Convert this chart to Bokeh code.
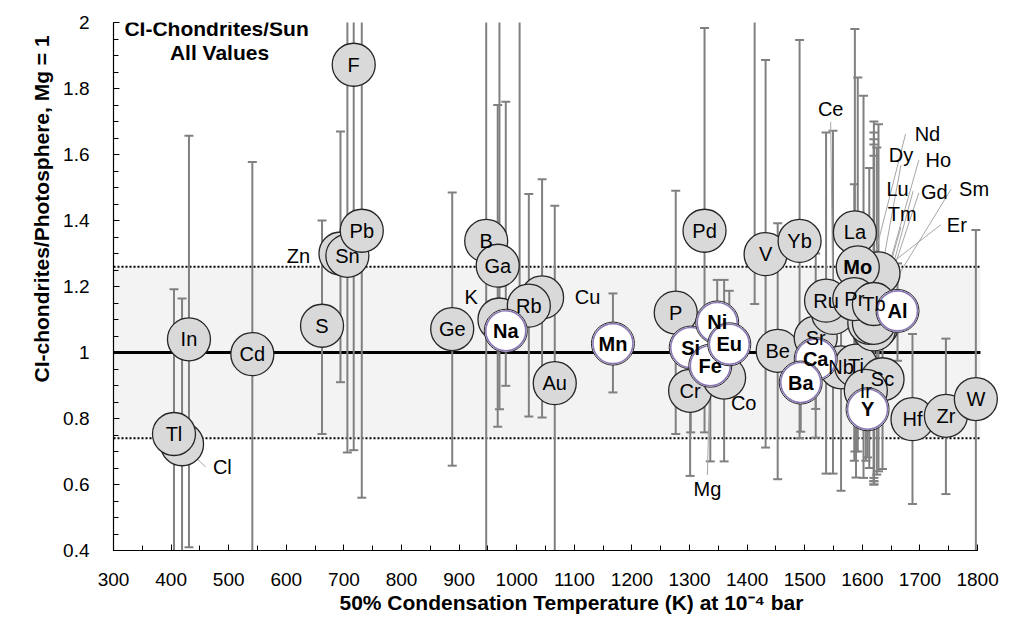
import numpy as np
from bokeh.plotting import figure
from bokeh.models import ColumnDataSource, Range1d, FixedTicker, CustomJSTickFormatter, Label, Title
from bokeh.embed import file_html
from bokeh.resources import INLINE
from bokeh.core.properties import value

# ---------------- data ----------------
# drawing order: grey markers first, highlighted (white) markers last
elements = ["Cl", "Tl", "In", "Cd", "S", "Zn", "Sn", "F", "Pb", "Ge", "B", "Ga", "K",
            "Cu", "Rb", "Au", "P", "Cr", "Pd", "Mg", "Co", "V", "Yb", "Be", "Sr",
            "Ce", "Ru", "La", "Nb", "Ti", "Sc", "Ir", "Hf", "Zr", "W",
            "Nd", "Er", "Dy", "Ho", "Lu", "Gd", "Sm", "Tm", "Mo", "Pr", "Tb",
            "Na", "Mn", "Si", "Fe", "Ni", "Eu", "Ca", "Ba", "Y", "Al"]
tc50 = [419, 405, 431, 541, 662, 694, 706, 717, 731, 888, 947, 967, 970,
        1044, 1021, 1066, 1276, 1301, 1326, 1336, 1360, 1432, 1491, 1453, 1519,
        1549, 1537, 1587, 1563, 1589, 1635, 1606, 1687, 1745, 1797,
        1602, 1628, 1620, 1620, 1625, 1620, 1612, 1620, 1592, 1586, 1620,
        981, 1167, 1302, 1336, 1348, 1369, 1519, 1493, 1609, 1661]
ratio = [0.722, 0.753, 1.040, 0.995, 1.081, 1.300, 1.293, 1.872, 1.369, 1.071, 1.338, 1.263, 1.100,
         1.167, 1.142, 0.907, 1.121, 0.884, 1.369, 1.000, 0.924, 1.298, 1.338, 1.005, 1.045,
         1.120, 1.157, 1.364, 0.955, 0.960, 0.919, 0.884, 0.798, 0.808, 0.859,
         1.160, 1.240, 1.120, 1.100, 1.080, 1.070, 1.090, 1.090, 1.258, 1.162, 1.147,
         1.066, 1.027, 1.015, 0.960, 1.091, 1.025, 0.980, 0.909, 0.828, 1.126]
err_low = [0.30, 0.30, 0.41, 0.39, 0.753, 0.910, 0.697, 0.704, 0.560, 0.657, 0.30, 0.775, 0.828,
           0.803, 0.806, 0.30, 0.753, 0.626, 0.758, np.nan, 0.670, 0.712, 0.740, 0.616, 0.742,
           0.633, 0.633, 0.700, 0.581, 0.621, 0.647, 0.672, 0.541, 0.571, 0.30,
           0.620, 0.640, 0.600, 0.610, 0.630, 0.620, 0.650, 0.600, 0.700, 0.672, 0.610,
           0.899, 0.879, 0.758, 0.670, 0.870, 0.869, 0.829, 0.760, 0.682, 0.975]
err_high = [1.164, 1.192, 1.657, 1.577, 1.400, 1.670, 2.30, 2.30, 2.30, 1.485, 2.30, 1.750, 2.30,
            1.525, 1.480, 1.445, 1.490, 1.100, 1.983, np.nan, 1.220, 1.886, 1.947, 1.392, 1.300,
            1.672, 1.667, 1.980, 1.100, 1.200, 1.100, 1.050, 1.056, 1.042, 1.371,
            1.778, 1.692, 1.667, 1.646, 1.621, 1.596, 1.559, 1.700, 1.833, 1.510, 1.630,
            1.760, 1.179, 1.141, 1.121, 1.220, 1.187, 1.120, 1.050, 1.000, 1.270]
highlighted = ["Na", "Mn", "Si", "Fe", "Ni", "Eu", "Ca", "Ba", "Y", "Al"]
bold_labels = highlighted + ["Mo"]

# error bars whose markers lie above the plotted range
offscale_tc = [1005, 1413]
offscale_low = [1.10, 1.147]
offscale_high = [2.30, 2.30]

# labels placed away from their markers: (label T, label ratio, leader end T, leader end ratio)
callouts = {
    "Zn": (621, 1.293, None, None),
    "K": (921, 1.167, None, None),
    "Cu": (1123, 1.167, None, None),
    "Co": (1394, 0.848, None, None),
    "Cl": (489, 0.654, 460, 0.653),
    "Mg": (1331, 0.586, 1331, 0.629),
    "Ce": (1545, 1.738, 1545, 1.699),
    "Nd": (1713, 1.662, 1675, 1.662),
    "Dy": (1667, 1.599, 1667, 1.568),
    "Ho": (1732, 1.583, 1698, 1.583),
    "Lu": (1661, 1.495, 1688, 1.489),
    "Gd": (1725, 1.487, 1698, 1.484),
    "Sm": (1794, 1.495, 1754, 1.495),
    "Tm": (1669, 1.419, 1667, 1.380),
    "Er": (1764, 1.387, 1736, 1.387),
}

band_low, band_high = 0.74, 1.26
x_min, x_max = 300, 1800
x_ticks = list(range(300, 1801, 100))
y_ticks = [0.4, 0.6, 0.8, 1.0, 1.2, 1.4, 1.6, 1.8, 2.0]
x_title = "50%  Condensation  Temperature (K) at 10\u207b\u2074 bar"
y_title = "CI-chondrites/Photosphere,  Mg = 1"

# ---------------- figure ----------------
FONT = "Liberation Sans"
p = figure(frame_width=890, frame_height=528, output_backend="svg", toolbar_location=None,
           x_range=Range1d(x_min, 1845), y_range=Range1d(0.4, 2.0),
           min_border_left=113, min_border_right=0, min_border_top=22, min_border_bottom=66)
p.outline_line_color = None
p.xgrid.visible = False
p.ygrid.visible = False
p.background_fill_color = "white"
p.border_fill_color = "white"

# band +/- and reference line
p.quad(left=[x_min], right=[x_max + 5], bottom=[band_low], top=[band_high],
       fill_color="#f3f3f3", line_color=None)
p.segment(x0=[x_min, x_min], x1=[x_max + 5, x_max + 5], y0=[band_low, band_high], y1=[band_low, band_high],
          line_color="black", line_width=2, line_dash="2 2")
p.segment(x0=[x_min], x1=[x_max + 5], y0=[1.0], y1=[1.0], line_color="black", line_width=3)

# error bars
all_tc = list(tc50) + offscale_tc
all_lo = list(err_low) + offscale_low
all_hi = list(err_high) + offscale_high
bars = ColumnDataSource(dict(x=all_tc, lo=all_lo, hi=all_hi))
p.segment(x0="x", x1="x", y0="lo", y1="hi", source=bars, line_color="#808080", line_width=2)
p.scatter(x="x", y="lo", source=bars, marker="dash", size=9, line_color="#808080", line_width=2)
p.scatter(x="x", y="hi", source=bars, marker="dash", size=9, line_color="#808080", line_width=2)

# leader lines
pos = {e: (t, r) for e, t, r in zip(elements, tc50, ratio)}
lx0, ly0, lx1, ly1 = [], [], [], []
for e, (tx, ty, ax, ay) in callouts.items():
    if ax is not None:
        lx0.append(pos[e][0]); ly0.append(pos[e][1]); lx1.append(ax); ly1.append(ay)
p.segment(x0=lx0, y0=ly0, x1=lx1, y1=ly1, line_color="#a6a6a6", line_width=1)

# markers
for e, t, r in zip(elements, tc50, ratio):
    if e in highlighted:
        p.scatter(x=[t], y=[r], marker="circle", size=43, fill_color="white",
                  line_color="#262626", line_width=1.0)
        p.scatter(x=[t], y=[r], marker="circle", size=40, fill_color="white",
                  line_color="#8a78b4", line_width=1.6)
    else:
        p.scatter(x=[t], y=[r], marker="circle", size=43, fill_color="#d9d9d9",
                  line_color="#262626", line_width=1.3)

# marker labels
for e, t, r in zip(elements, tc50, ratio):
    if e in callouts:
        t, r = callouts[e][0], callouts[e][1]
    p.text(x=[t], y=[r], text=[e], text_align="center", text_baseline="middle",
           text_font=value(FONT), text_font_size="20px", text_color="black",
           text_font_style="bold" if e in bold_labels else "normal")

# panel caption
p.add_layout(Label(x=479, y=1.981, text="CI-Chondrites/Sun", text_align="center",
                   text_baseline="middle", text_font=FONT, text_font_size="21px",
                   text_font_style="bold", text_color="black"))
p.add_layout(Label(x=484, y=1.908, text="All Values", text_align="center",
                   text_baseline="middle", text_font=FONT, text_font_size="21px",
                   text_font_style="bold", text_color="black"))

# axes
xa = p.xaxis[0]
xa.bounds = (x_min, x_max)
xa.ticker = FixedTicker(ticks=x_ticks, minor_ticks=list(range(300, 1801, 50)))
ya = p.yaxis[0]
ya.ticker = FixedTicker(ticks=y_ticks, minor_ticks=[round(0.4 + 0.05 * i, 2) for i in range(33)])
ya.formatter = CustomJSTickFormatter(code="return tick.toFixed(1).replace(/\\.0$/, '');")
for ax in (xa, ya):
    ax.axis_line_color = "black"
    ax.axis_line_width = 1.2
    ax.major_tick_in = 6
    ax.major_tick_out = 0
    ax.minor_tick_in = 5
    ax.minor_tick_out = 0
    ax.major_tick_line_color = "black"
    ax.minor_tick_line_color = "black"
    ax.major_label_text_font = FONT
    ax.major_label_text_font_size = "19px"
    ax.major_label_text_color = "black"
xa.major_label_standoff = 22
ya.major_label_standoff = 24

# axis titles, offset along their axes as in the reference
p.add_layout(Title(text=x_title, align="left", offset=226, standoff=0,
                   text_font=FONT, text_font_size="21px", text_font_style="bold",
                   text_color="black"), "below")
p.add_layout(Title(text=y_title, align="left", offset=168, standoff=15,
                   text_font=FONT, text_font_size="21px", text_font_style="bold",
                   text_color="black"), "left")

open("out.html", "w").write(file_html(p, INLINE))
